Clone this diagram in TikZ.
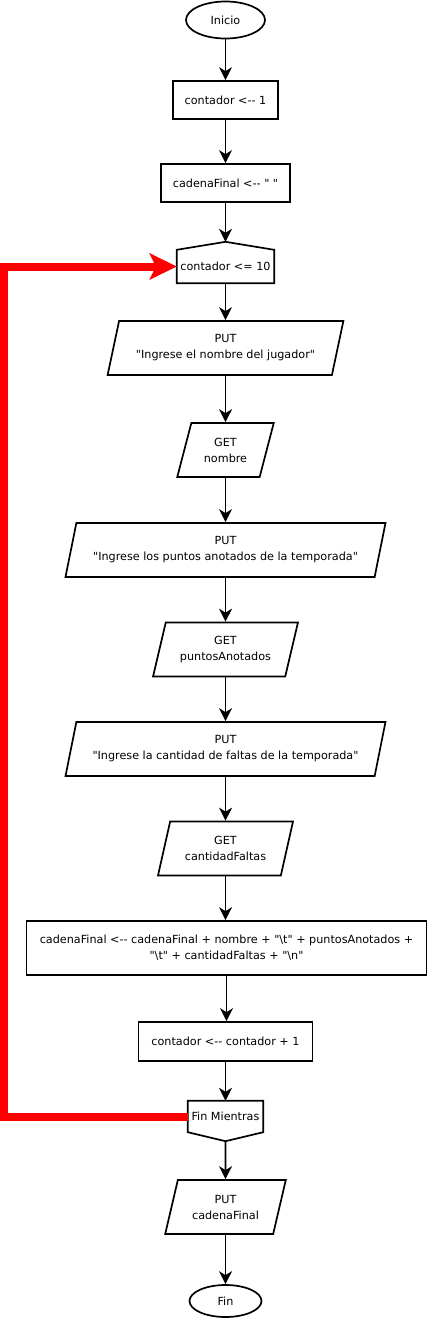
\documentclass[tikz,border=0pt]{standalone}
\usepackage{fontspec}
\setmainfont{DejaVu Sans}[Ligatures=TeXOff]
\usetikzlibrary{arrows.meta,shapes.geometric}

\tikzset{
  term/.style={draw, line width=1.7pt, ellipse, inner sep=0pt},
  box/.style={draw, line width=1.7pt, rectangle, align=center, inner sep=2pt},
  io/.style={draw, line width=1.7pt, trapezium, trapezium left angle=70,
    trapezium right angle=110, trapezium stretches=true, align=center, inner sep=0pt},
  loopbox/.style={rectangle, align=center, inner sep=0pt},
  flow/.style={line width=1.7pt, -{Stealth[length=13pt,width=13pt,inset=4pt]}},
  loopback/.style={red, line width=8pt, line join=miter,
    -{Stealth[length=27pt,width=26pt,inset=6pt]}}
}

\begin{document}
\begin{tikzpicture}[x=1pt,y=-1pt,font=\fontsize{11.2}{16}\selectfont]
    \useasboundingbox (0,0) rectangle (428,1318);
    % Start and first assignments
    \node[term, minimum width=79pt, minimum height=37pt] (inicio) at (225.5,20) {Inicio};
    \node[box, minimum width=105pt, minimum height=38pt] (cont) at (225.5,100) {contador <-- 1};
    \node[box, minimum width=129pt, minimum height=38pt] (cad) at (225.5,183) {cadenaFinal <-- " "};
    % Loop head
    \node[loopbox, minimum width=97pt, minimum height=33pt] (mientras) at (225.5,266.5) {contador <= 10};
    \coordinate (mientrasTop) at ([yshift=8pt]mientras.north);
    \draw[line width=1.7pt] (mientras.south west) -- (mientras.north west) -- (mientrasTop)
      -- (mientras.north east) -- (mientras.south east) -- cycle;
    % Loop body
    \node[io, minimum width=236pt, minimum height=54pt] (putNombre) at (225.5,348) {PUT\\"Ingrese el nombre del jugador"};
    \node[io, minimum width=97pt, minimum height=54pt] (getNombre) at (225.5,450) {GET\\nombre};
    \node[io, minimum width=321pt, minimum height=54pt] (putPuntos) at (225.5,550) {PUT\\"Ingrese los puntos anotados de la temporada"};
    \node[io, minimum width=145pt, minimum height=54pt] (getPuntos) at (225.5,649.5) {GET\\puntosAnotados};
    \node[io, minimum width=321pt, minimum height=54pt] (putFaltas) at (225.5,749) {PUT\\"Ingrese la cantidad de faltas de la temporada"};
    \node[io, minimum width=135pt, minimum height=54pt] (getFaltas) at (225.5,848.5) {GET\\cantidadFaltas};
    \node[box, minimum width=400pt, minimum height=54pt] (concat) at (226.5,948)
      {cadenaFinal <-- cadenaFinal + nombre + "\textbackslash t" + puntosAnotados +\\"\textbackslash t" + cantidadFaltas + "\textbackslash n"};
    \node[box, minimum width=174pt, minimum height=39pt] (incr) at (225.5,1041.5) {contador <-- contador + 1};
    % Loop end
    \node[loopbox, minimum width=75pt, minimum height=31pt] (finMientras) at (225.5,1116.5) {Fin Mientras};
    \coordinate (finTip) at ([yshift=-9pt]finMientras.south);
    \draw[line width=1.7pt] (finMientras.north west) -- (finMientras.north east) -- (finMientras.south east)
      -- (finTip) -- (finMientras.south west) -- cycle;
    % Output and end
    \node[io, minimum width=121pt, minimum height=54pt] (putFinal) at (225.5,1207) {PUT\\cadenaFinal};
    \node[term, minimum width=72pt, minimum height=32pt] (fin) at (225.5,1301) {Fin};

    % Draw the arrows
    \foreach \a/\b in {inicio/cont, cont/cad, mientras/putNombre, putNombre/getNombre,
        getNombre/putPuntos, putPuntos/getPuntos, getPuntos/putFaltas, putFaltas/getFaltas,
        getFaltas/concat, concat/incr, incr/finMientras, putFinal/fin}{
      \draw[flow] (\a.south) -- (\a.south |- \b.north);
    }
    \draw[flow] (cad.south) -- (mientrasTop);
    \draw[flow] (finTip) -- (putFinal.north);
    % Back to the loop head
    \coordinate (back) at (4,700);
    \draw[loopback] (finMientras.west) -| (back) |- (mientras.west);
\end{tikzpicture}
\end{document}
